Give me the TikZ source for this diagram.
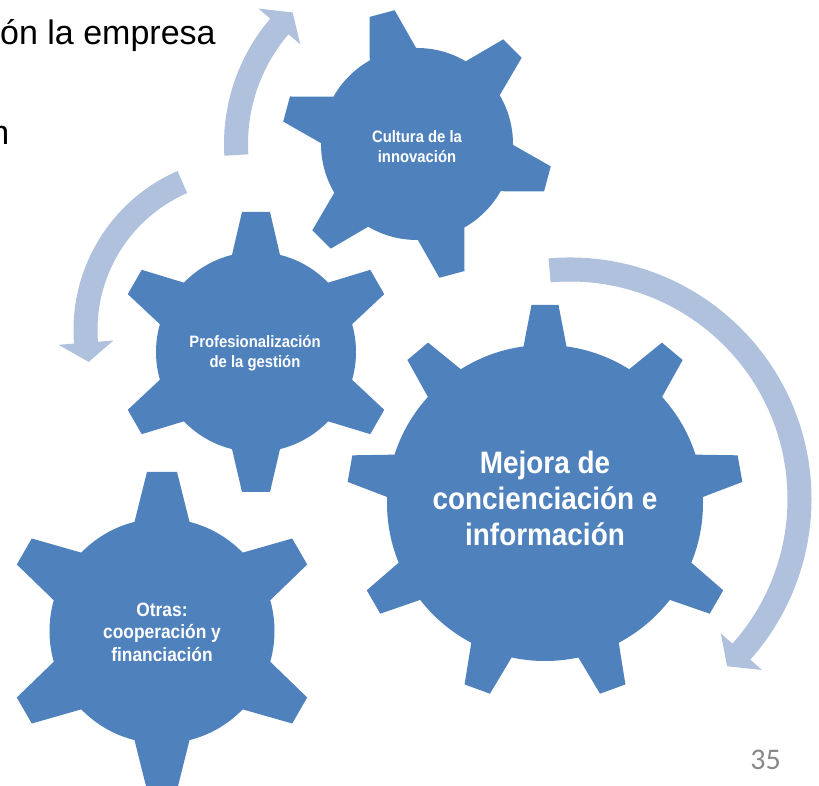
\documentclass[tikz,border=0pt]{standalone}
\usepackage{fontspec}
\setmainfont{Liberation Sans}
\newfontfamily\gearfont[FakeStretch=0.9]{Liberation Sans}
\newfontfamily\pagefont{Carlito}
\usetikzlibrary{calc}
\definecolor{gearblue}{RGB}{79,129,189}
\definecolor{arrowblue}{RGB}{176,193,221}
\definecolor{pagegray}{RGB}{137,137,137}
\tikzset{
  gearfill/.style={fill=gearblue},
  arrowfill/.style={fill=arrowblue},
  geartext/.style={text=white, font=\gearfont\bfseries, align=center, inner sep=0pt},
}
% #1 cx, #2 cy, #3 body radius, #4 tip radius, #5 base half width, #6 tip half width, #7 teeth, #8 first angle
\newcommand{\drawgear}[8]{%
  \begin{scope}[shift={(#1,#2)}]
    \fill[gearfill] (0,0) circle[radius=#3];
    \pgfmathsetmacro\gxb{10*sqrt((#3/10)*(#3/10)-(#5/10)*(#5/10))}
    \foreach \k in {1,...,#7}{
      \pgfmathsetmacro\gang{#8+360/#7*(\k-1)}
      \fill[gearfill,rotate=\gang] (0,0) -- (\gxb,-#5) -- (#4,-#6) -- (#4,#6) -- (\gxb,#5) -- cycle;
    }
  \end{scope}}
% #1 cx, #2 cy, #3 mid radius, #4 tail angle, #5 head base angle, #6 tip angle
\newcommand{\drawcircarrow}[6]{%
  \begin{scope}[shift={(#1,#2)}]
    \pgfmathsetmacro\rout{#3+12}
    \pgfmathsetmacro\rin{#3-12}
    \pgfmathsetmacro\rbo{#3+27.5}
    \pgfmathsetmacro\rbi{#3-27.5}
    \fill[arrowfill] (#4:\rout) arc[start angle=#4, end angle=#5, radius=\rout]
      -- (#5:\rbo) -- (#6:#3) -- (#5:\rbi) -- (#5:\rin)
      arc[start angle=#5, end angle=#4, radius=\rin] -- cycle;
  \end{scope}}
\begin{document}
\begin{tikzpicture}[x=1pt,y=1pt]
  \useasboundingbox (0,0) rectangle (819,786);
  \clip (0,0) rectangle (819,786);
  \fill[white] (0,0) rectangle (819,786);

  % background slide text
  \node[anchor=base west, inner sep=0pt, font=\fontsize{34}{40}\selectfont] (slidetext) at (0,741) {ón la empresa};
  \node[anchor=base east, inner sep=0pt, font=\fontsize{34}{40}\selectfont] (slidetextb) at (9.5,641) {n};

  % circular arrows
  \drawcircarrow{417}{642}{181}{183.5}{139.5}{133.4}
  \drawcircarrow{247}{456}{161.5}{113.6}{184.5}{191.4}
  \drawcircarrow{570}{287}{229.5}{95.1}{-41.7}{-46.8}

  % gears
  \drawgear{417}{642}{96}{135}{24}{13}{6}{105}
  \drawgear{256}{434}{100}{140}{24}{14}{6}{90}
  \drawgear{162}{155}{112.5}{159}{27.5}{15}{6}{90}
  \drawgear{545}{283}{158}{198}{21.5}{13.5}{9}{90}

  % labels
  \node[geartext, font=\gearfont\bfseries\fontsize{16.5}{20}\selectfont] (cultura) at (417,639) {Cultura de la\\innovación};
  \node[geartext, font=\gearfont\bfseries\fontsize{16.5}{20}\selectfont] (prof) at (255,433) {Profesionalización\\de la gestión};
  \node[geartext, font=\gearfont\bfseries\fontsize{19.3}{22.5}\selectfont] (otras) at (162,154) {Otras:\\cooperación y\\financiación};
  \node[geartext, font=\gearfont\bfseries\fontsize{31}{36}\selectfont] (mejora) at (545,288) {Mejora de\\concienciación e\\información};

  % page number
  \node[anchor=base, inner sep=0pt, text=pagegray, font=\pagefont\fontsize{30}{36}\selectfont] (pagenum) at (765.5,16) {35};
\end{tikzpicture}
\end{document}
